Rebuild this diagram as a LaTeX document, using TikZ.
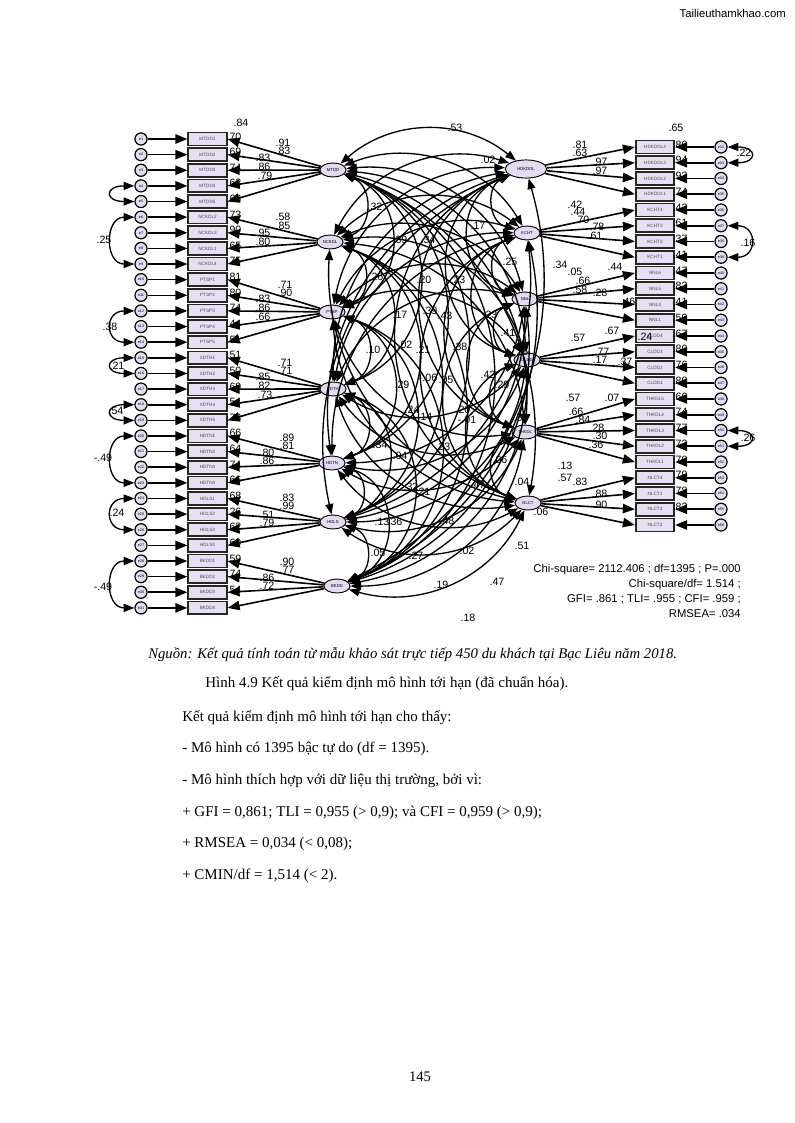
\documentclass[tikz,border=0pt]{standalone}
\usepackage{fontspec}
\setmainfont{Liberation Serif}
\newfontfamily\arialfont{Liberation Sans}
\usetikzlibrary{arrows.meta,shapes,positioning}

\definecolor{boxfill}{RGB}{230,222,242}
\definecolor{latfill}{RGB}{228,218,242}

\tikzset{
  ind/.style={draw=black!85, line width=1.3pt, fill=boxfill, minimum width=10.2mm, minimum height=3.4mm, inner sep=0pt, font=\arialfont\fontsize{3.5}{4}\selectfont, text=black!70},
  lat/.style={ellipse, draw, line width=0.7pt, fill=latfill, minimum width=6.9mm, minimum height=3.7mm, inner sep=0pt, font=\arialfont\fontsize{3.2}{4}\selectfont},
  err/.style={circle, draw, line width=0.9pt, fill=latfill, minimum size=3.2mm, inner sep=0pt, font=\arialfont\fontsize{2.8}{3}\selectfont},
  load/.style={-{Triangle[length=9pt,width=7pt]}, line width=1.2pt},
  cov/.style={{Triangle[length=8pt,width=6pt]}-{Triangle[length=8pt,width=6pt]}, line width=1pt},
  est/.style={font=\arialfont\fontsize{8}{8}\selectfont, inner sep=0pt},
  txt/.style={anchor=base west, inner sep=0pt, font=\fontsize{11.3}{13}\selectfont}
}

\begin{document}
\begin{tikzpicture}[x=0.26458mm, y=-0.26458mm]
  % page
  \fill[white] (0,0) rectangle (794,1123);
  \useasboundingbox (0,0) rectangle (794,1123);
  \node[anchor=base east, inner sep=0pt, font=\arialfont\fontsize{8.5}{10}\selectfont] (site) at (786,18) {Tailieuthamkhao.com};

  % latent factors
  \node[lat] (MTDD) at (333,170) {MTDD};
  \node[lat] (NCKDL) at (330,242) {NCKDL};
  \node[lat] (PTSP) at (332,312) {PTSP};
  \node[lat] (XDTH) at (333,389) {XDTH};
  \node[lat] (HDTN) at (332,463) {HDTN};
  \node[lat] (HDLS) at (333,522) {HDLS};
  \node[lat] (BKDD) at (337,586) {BKDD};
  \node[lat, minimum width=11mm, minimum height=4.8mm] (HDKDDL) at (526,169) {HDKDDL};
  \node[lat] (KCHT) at (527,233) {KCHT};
  \node[lat] (NNL) at (525,299) {NNL};
  \node[lat] (CLDD) at (527,360) {CLDD};
  \node[lat] (THKDL) at (525,432) {THKDL};
  \node[lat] (NLCT) at (528,503) {NLCT};

  % indicators, left
  \foreach \lat/\first/\items in {MTDD/1/{MTDD1/.70,MTDD2/.69,MTDD3/.74,MTDD4/.63,MTDD5/.63},
      NCKDL/6/{NCKDL2/.73,NCKDL3/.90,NCKDL1/.65,NCKDL4/.75},
      PTSP/10/{PTSP1/.81,PTSP2/.80,PTSP3/.74,PTSP4/.44,PTSP5/.51},
      XDTH/15/{XDTH1/.51,XDTH2/.50,XDTH3/.69,XDTH4/.54,XDTH5/.73},
      HDTN/20/{HDTN1/.66,HDTN2/.64,HDTN3/.74,HDTN4/.66},
      HDLS/24/{HDLS1/.68,HDLS2/.26,HDLS3/.62,HDLS4/.69},
      BKDD/28/{BKDD1/.59,BKDD2/.74,BKDD3/.54,BKDD4/{}}}{
    \foreach \obs/\rsq [count=\kk] in \items {
      \pgfmathtruncatemacro\idx{\first+\kk-1}
      \pgfmathsetmacro\yy{139+15.63*(\idx-1)}
      \node[ind] (\obs) at (207.5,\yy) {\obs};
      \node[err] (e\idx) at (141,\yy) {e\idx};
      \draw[load] (e\idx) -- (\obs);
      \draw[load] (\lat) -- (\obs.east);
      \node[est, anchor=west] at ([xshift=-1pt,yshift=2pt]\obs.east) {\rsq};
    }
  }

  % indicators, right
  \foreach \lat/\first/\items in {HDKDDL/1/{HDKDDL4/.80,HDKDDL3/.94,HDKDDL2/.93,HDKDDL1/.74},
      KCHT/5/{KCHT4/.42,KCHT3/.61,KCHT2/.37,KCHT1/.41},
      NNL/9/{NNL6/.47,NNL5/.82,NNL4/.41,NNL1/.59},
      CLDD/13/{CLDD4/.67,CLDD3/.80,CLDD2/.76,CLDD1/.80},
      THKDL/17/{THKDL5/.66,THKDL4/.74,THKDL3/.77,THKDL2/.73,THKDL1/.70},
      NLCT/22/{NLCT4/.79,NLCT1/.78,NLCT3/.82,NLCT2/{}}}{
    \foreach \obs/\rsq [count=\kk] in \items {
      \pgfmathtruncatemacro\idx{\first+\kk-1}
      \pgfmathtruncatemacro\enr{\idx+31}
      \pgfmathsetmacro\yy{147+15.75*(\idx-1)}
      \node[ind] (\obs) at (655,\yy) {\obs};
      \node[err] (e\enr) at (721,\yy) {e\enr};
      \draw[load] (e\enr) -- (\obs);
      \draw[load] (\lat) -- (\obs.west);
      \node[est, anchor=west] at ([xshift=-2pt,yshift=2pt]\obs.east) {\rsq};
    }
  }

  % covariances among factors
  \foreach \fa [count=\ii] in {MTDD,NCKDL,PTSP,XDTH,HDTN,HDLS,BKDD}{
    \foreach \fb [count=\jj] in {MTDD,NCKDL,PTSP,XDTH,HDTN,HDLS,BKDD}{
      \ifnum\jj>\ii \draw[cov] (\fa) to[bend left=70, looseness=1.3] (\fb); \fi
    }
  }
  \foreach \fa [count=\ii] in {HDKDDL,KCHT,NNL,CLDD,THKDL,NLCT}{
    \foreach \fb [count=\jj] in {HDKDDL,KCHT,NNL,CLDD,THKDL,NLCT}{
      \ifnum\jj>\ii \draw[cov] (\fa) to[bend right=70, looseness=1.3] (\fb); \fi
    }
  }
  \foreach \fa [count=\ii] in {MTDD,NCKDL,PTSP,XDTH,HDTN,HDLS,BKDD}{
    \foreach \fb [count=\jj] in {HDKDDL,KCHT,NNL,CLDD,THKDL,NLCT}{
      \pgfmathtruncatemacro\sm{\ii+\jj}
      \ifnum\sm<8 \draw[cov] (\fa) to[bend left=40] (\fb); \else \draw[cov] (\fa) to[bend right=40] (\fb); \fi
    }
  }

  % covariances among errors
  \foreach \ea/\eb in {4/5, 6/9, 12/14, 15/16, 18/19, 20/23, 24/26, 28/31}
    \draw[cov] (e\ea.west) .. controls +(-30,0) and +(-30,0) .. (e\eb.west);
  \foreach \ea/\eb in {32/33, 37/39, 50/51}
    \draw[cov] (e\ea.east) .. controls +(30,0) and +(30,0) .. (e\eb.east);
  \foreach \val/\x/\y in {.25/104/240, .38/110/327, .21/117/366, .54/116/411, -.49/103/458, .24/117/513, -.49/103/587,
      .22/744/153, .16/748/243, .26/748/438}
    \node[est] at (\x,\y) {\val};

  % loadings, left
  \foreach \val/\x/\y in {.84/241/123,
      .91/283/143, .83/283/151, .83/263/158, .86/263/167, .79/265/176,
      .58/283/217, .85/283/226, .95/263/233, .80/263/242,
      .71/285/285, .90/285/293, .83/263/299, .86/263/308, .66/263/317,
      .71/285/363, .71/285/371, .85/263/377, .82/263/386, .73/265/395,
      .89/287/438, .81/287/446, .80/267/453, .86/267/461,
      .83/287/498, .99/287/506, .51/267/515, .79/267/523,
      .90/287/562, .77/287/570, .86/267/578, .72/267/586}
    \node[est] at (\x,\y) {\val};

  % loadings, right
  \foreach \val/\x/\y in {.65/676/128,
      .81/580/145, .63/580/153, .97/600/162, .97/600/171,
      .42/575/205, .44/578/212, .70/582/220, .78/597/227, .61/595/236,
      .44/615/267, .34/560/265, .05/575/272, .66/583/281, .58/580/290, .28/600/293, .46/628/302,
      .67/612/331, .57/578/338, .24/645/337, .77/602/352, .17/600/360, .37/625/362,
      .07/612/398, .57/573/398, .66/576/412, .84/583/420, .28/597/428, .30/600/436, .36/596/445,
      .13/565/466, .57/565/478, .83/580/482, .88/600/494, .90/600/505}
    \node[est] at (\x,\y) {\val};

  % correlations
  \foreach \val/\x/\y in {.53/455/128, .02/488/160, .32/375/207, .17/478/226, .39/400/240, .34/428/240,
      .26/376/277, .20/424/280, .23/458/280, .25/510/262,
      .17/400/315, .39/430/311, .43/445/316, .23/490/315, .41/508/333,
      .10/373/350, .02/405/345, .21/423/350, .38/460/347, .26/521/352,
      .29/402/385, -.06/428/378, .05/446/380, .42/488/375, .29/502/385,
      .24/412/410, .14/425/417, .20/463/410, -.01/467/420, .53/521/418,
      .34/380/445, .04/400/456, .23/443/447, .06/500/460,
      .32/411/487, .21/423/492, .47/478/485, .04/522/482,
      .13/382/522, .36/395/522, .48/447/521, .06/541/512,
      .05/378/553, .27/416/556, .02/467/551, .51/522/546,
      .19/441/585, .47/497/582, .18/468/618}
    \node[est] at (\x,\y) {\val};

  % fit statistics
  \node[anchor=north east, align=right, inner sep=0pt, font=\arialfont\fontsize{8.5}{11.3}\selectfont] (fit) at (741,564)
    {Chi-square= 2112.406 ; df=1395 ; P=.000\\ Chi-square/df= 1.514 ;\\ GFI= .861 ; TLI= .955 ; CFI= .959 ;\\ RMSEA= .034};

  % text below
  \node[anchor=base west, inner sep=0pt, font=\fontsize{11.1}{13}\selectfont\itshape] (src) at (148,658)
    {Nguồn: Kết quả tính toán từ mẫu khảo sát trực tiếp 450 du khách tại Bạc Liêu năm 2018.};
  \node[txt] (cap) at (205,687) {Hình 4.9 Kết quả kiểm định mô hình tới hạn (đã chuẩn hóa).};
  \node[txt] (l1) at (182,721) {Kết quả kiểm định mô hình tới hạn cho thấy:};
  \node[txt] (l2) at (182,752) {- Mô hình có 1395 bậc tự do (df = 1395).};
  \node[txt] (l3) at (182,784) {- Mô hình thích hợp với dữ liệu thị trường, bởi vì:};
  \node[txt] (l4) at (182,816) {+ GFI = 0,861; TLI = 0,955 (> 0,9); và CFI = 0,959 (> 0,9);};
  \node[txt] (l5) at (182,847) {+ RMSEA = 0,034 (< 0,08);};
  \node[txt] (l6) at (182,879) {+ CMIN/df = 1,514 (< 2).};
  \node[anchor=base, inner sep=0pt, font=\fontsize{11}{13}\selectfont] (page) at (420,1081) {145};
\end{tikzpicture}
\end{document}
